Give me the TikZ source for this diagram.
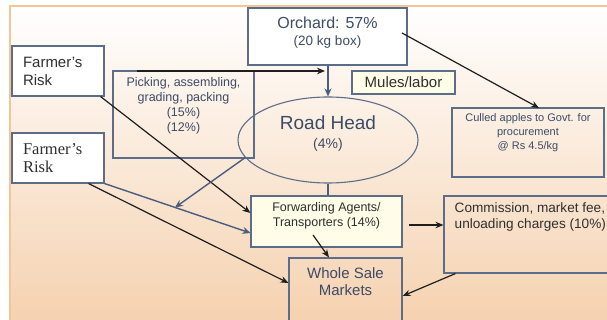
\documentclass[tikz,border=0pt]{standalone}
\usepackage{fontspec}
\setmainfont{Liberation Sans}
\newfontfamily\timesfont{Liberation Serif}
\usetikzlibrary{arrows.meta,shapes.geometric}
\definecolor{txt}{HTML}{3C4B66}
\definecolor{dark}{HTML}{2F2F2F}
\definecolor{bord}{HTML}{5C6D8A}
\definecolor{arrblu}{HTML}{4A5D7E}
\definecolor{arrblk}{HTML}{1E1E1E}
\definecolor{yel}{HTML}{FFFCE8}
\definecolor{peach}{HTML}{F5D2B0}
\definecolor{peachmid}{HTML}{FAE6D4}
\definecolor{frame}{HTML}{F4C597}
\tikzset{
  box/.style={draw=bord, line width=1.1pt, inner sep=0pt, rectangle},
  lbl/.style={text=txt, align=center, inner sep=0pt},
  blk/.style={draw=arrblk, line width=1.2pt, -{Stealth[length=8pt,width=6.5pt]}},
  blu/.style={draw=arrblu, line width=1.4pt, -{Stealth[length=8pt,width=7pt]}},
  bluline/.style={draw=arrblu, line width=1.4pt},
}
\begin{document}
\begin{tikzpicture}[x=1pt,y=-1pt]
\useasboundingbox (0,0) rectangle (607,320);
\shade[top color=white, middle color=peachmid, bottom color=peach] (10,6) rectangle (607,320);
\draw[frame, line width=2pt] (10,320) -- (10,6) -- (607,6);

% boxes
\node[box, fill=white, minimum width=159, minimum height=57] (orch) at (327.5,36.5) {};
\node[lbl, font=\fontsize{16}{19}\selectfont] (orchtxt) at (327.5,23) {Orchard: 57\%};
\node[lbl, font=\fontsize{13.5}{16}\selectfont] (orchsub) at (327.5,42.5) {(20 kg box)};

\node[box, fill=white, minimum width=92, minimum height=50, text width=70, align=left, inner xsep=11, text=dark,
  font=\fontsize{15}{18}\selectfont] (fr1) at (58,71) {Farmer's\\Risk};
\node[box, fill=white, minimum width=92, minimum height=50, text width=70, align=left, inner xsep=11, text=dark,
  font=\fontsize{16.5}{18}\timesfont] (fr2) at (58,158) {Farmer’s\\Risk};

\node[box, minimum width=141, minimum height=87] (pick) at (183.5,114.5) {};
\node[lbl, font=\fontsize{12.5}{15}\selectfont] (picktxt) at (183.5,105.5) {Picking, assembling,\\grading, packing\\(15\%)\\(12\%)};

\node[box, fill=yel, minimum width=103, minimum height=23, text=dark, font=\fontsize{15}{18}\selectfont] (mules) at (403.5,82.5) {Mules/labor};

\node[ellipse, draw=bord, line width=1.1pt, inner sep=0pt, minimum width=180, minimum height=86] (rh) at (328,140) {};
\node[lbl, font=\fontsize{19}{22}\selectfont] (rhtxt) at (328,123) {Road Head};
\node[lbl, font=\fontsize{14}{17}\selectfont] (rhsub) at (328,145) {(4\%)};

\node[box, minimum width=152, minimum height=69] (cull) at (528,142.5) {};
\node[lbl, font=\fontsize{11}{14}\selectfont] (culltxt) at (528,133) {Culled apples to Govt. for\\procurement\\@ Rs 4.5/kg};

\node[box, fill=yel, minimum width=151, minimum height=51] (fwd) at (326.5,221.5) {};
\node[lbl, text=dark, font=\fontsize{12.5}{15}\selectfont] (fwdtxt) at (326.5,215.5) {Forwarding Agents/\\Transporters (14\%)};

\node[box, minimum width=176, minimum height=77] (comm) at (532,234.5) {};
\node[lbl, text=dark, align=left, anchor=west, font=\fontsize{13.6}{16}\selectfont] (commtxt) at (454.5,217) {Commission, market fee,\\unloading charges (10\%)};

\node[box, minimum width=113, minimum height=72] (ws) at (345.5,294) {};
\node[lbl, font=\fontsize{15}{17}\selectfont] (wstxt) at (345.5,281.5) {Whole Sale\\Markets};

% connectors
\coordinate (pickA) at (137,71);
\coordinate (pickB) at (325,71);
\draw[blk] (pickA) -- (pickB);
\draw[blu] (orch.south -| rh.north) -- (rh.north);
\coordinate (orA) at (402,33);
\coordinate (culA) at (539,108);
\draw[blk] (orA) -- (culA);
\draw[bluline] (rh.south) -- (rh.south |- fwd.north);
\draw[blk] ([xshift=-4pt]fr1.south east) -- ([yshift=8.5pt]fwd.west);
\draw[blu] (fr2.south east) -- ([yshift=-11.5pt]fwd.west);
\coordinate (split) at (175,207.5);
\draw[blu] (rh.192) -- (split);
\draw[blk] ([xshift=-16pt]fr2.south east) -- ([yshift=11pt]ws.west);
\coordinate (fwdA) at (313,235);
\draw[blk] (fwdA) -- ([xshift=-16.5pt]ws.north);
\coordinate (fwdB) at (409,225);
\draw[blk] (fwdB) -- ([yshift=9.5pt]comm.west);
\draw[blk] ([xshift=12pt]comm.south west) -- ([yshift=-2pt]ws.east);
\end{tikzpicture}
\end{document}
